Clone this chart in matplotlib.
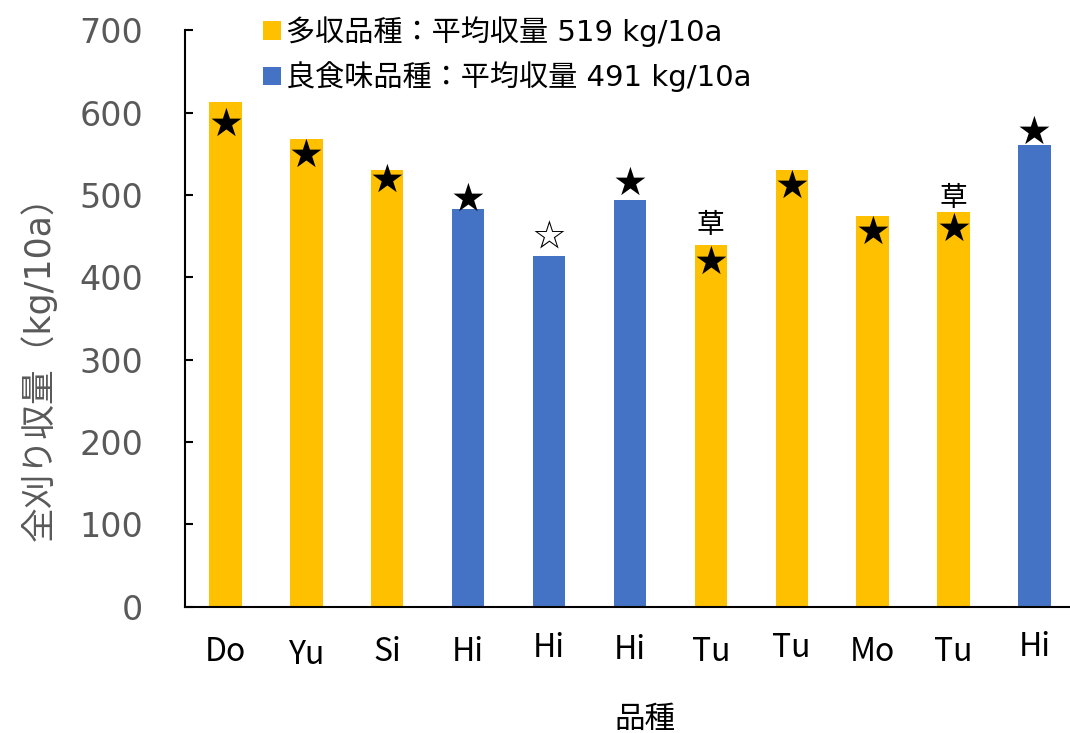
#!/usr/bin/env python3
"""
Whole-field harvest yield per variety, high-yield vs. good-taste varieties.
"""

import matplotlib
matplotlib.use("Agg")
import matplotlib.pyplot as plt
from matplotlib.patches import Patch
from matplotlib.transforms import offset_copy

# yield data (kg/10a)
varieties = ["Do", "Yu", "Si", "Hi", "Hi", "Hi", "Tu", "Tu", "Mo", "Tu", "Hi"]
yields = [613, 568, 530, 483, 426, 494, 439, 530, 475, 479, 561]
groups = ["high", "high", "high", "taste", "taste", "taste",
          "high", "high", "high", "high", "taste"]
marks = ["★", "★", "★", "★", "☆", "★", "★", "★", "★", "★", "★"]
weed_flags = [False, False, False, False, False, False, True, False, False, True, False]

GOLD = "#FFC000"
BLUE = "#4472C4"
GRAY = "#595959"
JP = ["Noto Sans CJK JP", "DejaVu Sans"]
LATIN_JP = ["DejaVu Sans", "Noto Sans CJK JP"]

# where each star sits, in data units (inside or just above the bar)
star_y = [585, 547, 517, 494, 449, 514, 417, 510, 454, 458, 575]
weed_y = {6: 464, 9: 496}
# small vertical jitter of the category labels (points)
label_dy = [0, -2, 0, 0, 3, 2, 0, 3, 0, 0, 4]

avg_high = sum(y for y, g in zip(yields, groups) if g == "high") / groups.count("high")
avg_taste = sum(y for y, g in zip(yields, groups) if g == "taste") / groups.count("taste")

fig = plt.figure(figsize=(10.7, 7.33), dpi=100)
ax = fig.add_axes([185 / 1070, (733 - 606.5) / 733, 885 / 1070, 576.1 / 733])

x = list(range(len(varieties)))
colors = [GOLD if g == "high" else BLUE for g in groups]
ax.bar(x, yields, width=0.4, color=colors, zorder=2)

ax.set_xlim(-0.5, 10.44)
ax.set_ylim(0, 700)
ax.set_yticks(range(0, 701, 100))
ax.tick_params(axis="y", direction="in", length=6, width=1.5, pad=30,
               labelsize=24, labelcolor=GRAY)
ax.set_xticks([])

for s in ("top", "right"):
    ax.spines[s].set_visible(False)
for s in ("left", "bottom"):
    ax.spines[s].set_linewidth(1.5)

# category labels under the axis
for i, (name, dy) in enumerate(zip(varieties, label_dy)):
    tr = offset_copy(ax.get_xaxis_transform(), fig=fig, x=0, y=-33 + dy, units="points")
    ax.text(i, 0, name, transform=tr, ha="center", va="center",
            fontsize=23, family=JP, color="black")

# significance stars and weed notes
for i, (m, sy) in enumerate(zip(marks, star_y)):
    ax.text(i, sy, m, ha="center", va="center", fontsize=28,
            family="DejaVu Sans", color="black", zorder=3)
for i, wy in weed_y.items():
    ax.text(i, wy, "草", ha="center", va="center", fontsize=20,
            family=JP, color="black", zorder=3)

handles = [
    Patch(facecolor=GOLD, label=f"多収品種：平均収量 {avg_high:.0f} kg/10a"),
    Patch(facecolor=BLUE, label=f"良食味品種：平均収量 {avg_taste:.0f} kg/10a"),
]
fig.legend(handles=handles, loc="upper left",
           bbox_to_anchor=(263 / 1070, 1 - 16 / 733), frameon=False,
           prop={"family": LATIN_JP, "size": 21}, handlelength=0.6, handleheight=0.6,
           handletextpad=0.2, labelspacing=0.5, borderpad=0, borderaxespad=0)

fig.text(38 / 1070, 1 - 360 / 733, "全刈り収量（kg/10a）", rotation=90,
         ha="center", va="center", fontsize=25, family=LATIN_JP, color=GRAY)
fig.text(645 / 1070, 1 - 719 / 733, "品種", ha="center", va="center",
         fontsize=22, family=JP, color="black")

plt.savefig("out.png", dpi=100)
plt.close()
